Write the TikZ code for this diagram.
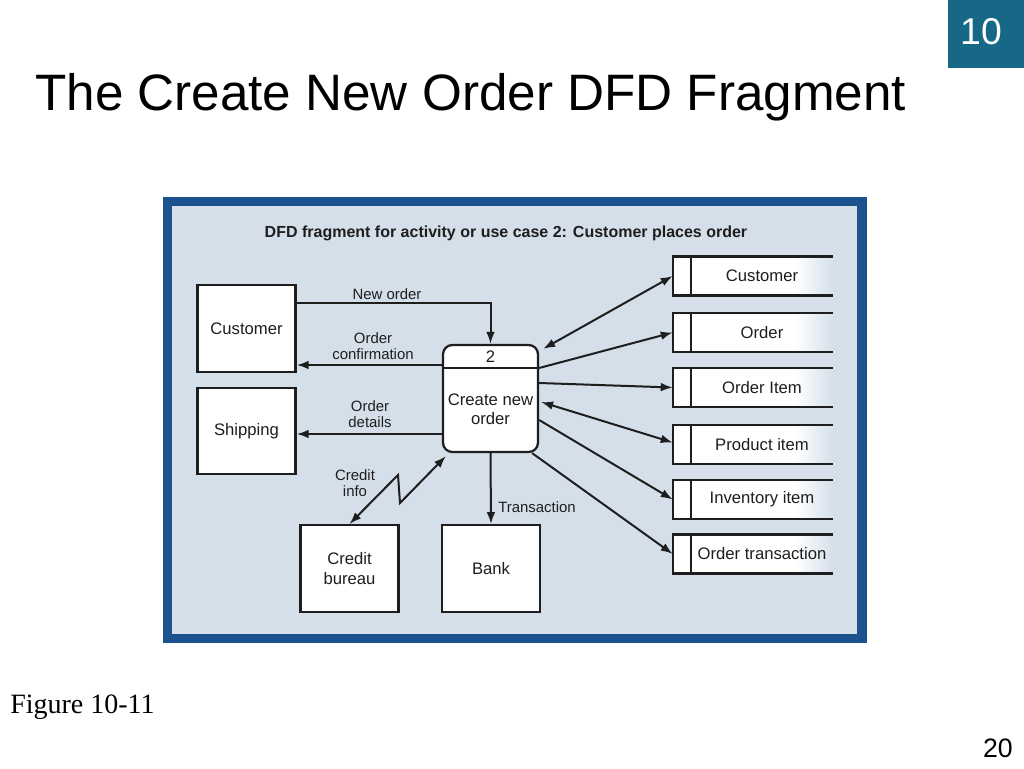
\documentclass[tikz,border=0pt]{standalone}
\usepackage{fontspec}
\setmainfont{Liberation Sans}
\newfontfamily\serifface{Liberation Serif}
\usetikzlibrary{arrows.meta,calc}
\definecolor{tealbox}{RGB}{22,104,134}
\definecolor{frameblue}{RGB}{28,82,142}
\definecolor{panel}{RGB}{213,223,234}
\definecolor{ink}{RGB}{30,30,30}
\newcommand\dstore[3]{%
  \node[storebox] (#1) at (753,#2) {};
  \fill[white] (#1.north west) rectangle ($(#1.south east)+(-38,0)$);
  \shade[left color=white,right color=panel] ($(#1.north east)+(-38,0)$) rectangle (#1.south east);
  \draw[ink,line width=1.7pt] (#1.north east) -- (#1.north west) -- (#1.south west) -- (#1.south east);
  \draw[ink,line width=1.7pt] ($(#1.north west)+(18,0)$) -- ($(#1.south west)+(18,0)$);
  \node[lbl] (#1-t) at (762,#2) {#3};
}
\begin{document}
\begin{tikzpicture}[x=0.75pt,y=-0.75pt,
  ent/.style={draw=ink,line width=1.7pt,fill=white,minimum width=73.5pt,minimum height=65pt,inner sep=0pt,font=\fontsize{12.5}{14.5}\selectfont,align=center,text=ink},
  proc/.style={draw=ink,line width=1.7pt,fill=white,rounded corners=7pt,minimum width=71.25pt,minimum height=80.25pt,inner sep=0pt},
  storebox/.style={minimum width=120pt,minimum height=29pt,inner sep=0pt},
  lbl/.style={font=\fontsize{12.5}{14.5}\selectfont,text=ink,inner sep=0pt},
  flbl/.style={font=\fontsize{11.2}{12.5}\selectfont,text=ink,align=center,inner sep=0pt},
  flow/.style={draw=ink,line width=1.5pt,-{Latex[length=9pt,width=6.5pt]}},
  flowb/.style={draw=ink,line width=1.5pt,{Latex[length=9pt,width=6.5pt]}-{Latex[length=9pt,width=6.5pt]}}]
\useasboundingbox (0,0) rectangle (1024,768);
\fill[white] (0,0) rectangle (1024,768);
% slide decorations
\fill[tealbox] (948,0) rectangle (1024,68);
\node[text=white,font=\fontsize{28}{30}\selectfont,inner sep=0pt] (num) at (981,32) {10};
\node[anchor=base west,inner sep=0pt,font=\fontsize{38.4}{42}\selectfont] (title) at (35,110) {The Create New Order DFD Fragment};
\node[anchor=base west,inner sep=0pt,font=\serifface\fontsize{21}{23}\selectfont] (fig) at (10,713) {Figure 10-11};
\node[anchor=base east,inner sep=0pt,font=\fontsize{20}{22}\selectfont] (page) at (1013,757) {20};
% frame
\fill[frameblue] (163,197) rectangle (867,643);
\fill[panel] (172,206) rectangle (857,634);
\node[font=\bfseries\fontsize{12}{14}\selectfont,text=ink,inner sep=0pt] (head) at (506,233) {DFD fragment for activity or use case 2: Customer places order};
% entities
\node[ent] (cust) at (246.5,328.5) {Customer};
\node[ent] (ship) at (246.5,431) {Shipping};
\node[ent] (cred) at (349.5,568.5) {Credit\\bureau};
\node[ent] (bank) at (491,568.5) {Bank};
% process
\node[proc] (proc) at (490.5,398.5) {};
\draw[ink,line width=1.7pt] (proc.west |- 0,368) -- (proc.east |- 0,368);
\node[lbl] (pnum) at (490.5,357) {2};
\node[lbl,align=center] (pname) at (490.5,409) {Create new\\order};
% stores
\dstore{sCust}{276}{Customer}
\dstore{sOrd}{332.5}{Order}
\dstore{sOI}{387.5}{Order Item}
\dstore{sPI}{444.5}{Product item}
\dstore{sInv}{499.5}{Inventory item}
\dstore{sOT}{554}{Order transaction}
% flows
\draw[flow] (cust.east |- 0,303) -- (proc.north |- 0,303) -- (proc.north);
\node[flbl] (l1) at (387,294) {New order};
\draw[flow] (proc.west |- 0,365) -- (cust.east |- 0,365);
\node[flbl] (l2) at (373,346) {Order\\confirmation};
\draw[flow] (proc.west |- 0,434) -- (ship.east |- 0,434);
\node[flbl] (l3) at (370,414) {Order\\details};
\draw[flowb] (cred.north) -- (398,475) -- (400,503) -- ($(proc.south west)+(4,3)$);
\node[flbl] (l4) at (355,483) {Credit\\info};
\draw[flow] (proc.south) -- (bank.north);
\node[flbl] (l5) at (537,507) {Transaction};
\draw[flowb] ($(proc.north east)+(4,5)$) -- (sCust.west);
\draw[flow] (proc.east |- 0,368) -- (sOrd.west);
\draw[flow] (proc.east |- 0,383) -- (sOI.west);
\draw[flowb] ($(proc.east |- 0,402)+(2,0)$) -- ($(sPI.west)+(0,-2)$);
\draw[flow] (proc.east |- 0,420) -- (sInv.west);
\draw[flow] ($(proc.south east)+(-7,0)$) -- (sOT.west);
\end{tikzpicture}
\end{document}
